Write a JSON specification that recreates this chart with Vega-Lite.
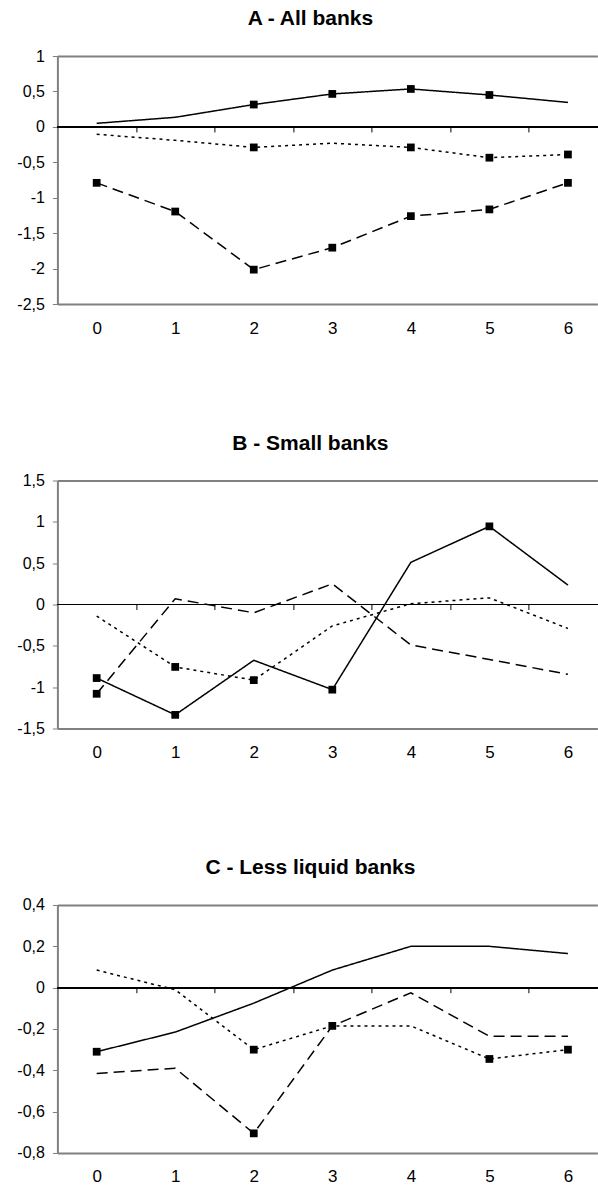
{
  "$schema": "https://vega.github.io/schema/vega-lite/v6.json",
  "padding": {"left": 16.4, "top": 8, "right": 0, "bottom": 0},
  "config": {
    "font": "Liberation Sans",
    "view": {"stroke": null},
    "title": {"fontSize": 21, "fontWeight": "bold", "color": "black", "anchor": "middle", "frame": "group", "offset": 19, "dx": -17},
    "axisY": {"orient": "left", "title": null, "grid": false, "domainColor": "#808080", "domainWidth": 2, "tickColor": "#808080", "tickSize": 5, "tickWidth": 1, "labelPadding": 8, "labelFontSize": 16, "labelColor": "black", "labelExpr": "replace(replace(format(datum.value, '~g'), '.', ','), '\u2212', '-')"}
  },
  "spacing": 176.5,
  "bounds": "flush",
  "vconcat": [
    {
      "title": "A - All banks",
      "width": 540,
      "height": 248,
      "data": {"values": [
        {"t": 0, "v": 0.05, "s": "solid", "m": 0},
        {"t": 1, "v": 0.135, "s": "solid", "m": 0},
        {"t": 2, "v": 0.315, "s": "solid", "m": 1},
        {"t": 3, "v": 0.465, "s": "solid", "m": 1},
        {"t": 4, "v": 0.535, "s": "solid", "m": 1},
        {"t": 5, "v": 0.45, "s": "solid", "m": 1},
        {"t": 6, "v": 0.345, "s": "solid", "m": 0},
        {"t": 0, "v": -0.105, "s": "dotted", "m": 0},
        {"t": 1, "v": -0.19, "s": "dotted", "m": 0},
        {"t": 2, "v": -0.29, "s": "dotted", "m": 1},
        {"t": 3, "v": -0.23, "s": "dotted", "m": 0},
        {"t": 4, "v": -0.29, "s": "dotted", "m": 1},
        {"t": 5, "v": -0.435, "s": "dotted", "m": 1},
        {"t": 6, "v": -0.39, "s": "dotted", "m": 1},
        {"t": 0, "v": -0.79, "s": "dashed", "m": 1},
        {"t": 1, "v": -1.195, "s": "dashed", "m": 1},
        {"t": 2, "v": -2.015, "s": "dashed", "m": 1},
        {"t": 3, "v": -1.705, "s": "dashed", "m": 1},
        {"t": 4, "v": -1.26, "s": "dashed", "m": 1},
        {"t": 5, "v": -1.165, "s": "dashed", "m": 1},
        {"t": 6, "v": -0.79, "s": "dashed", "m": 1}
      ]},
      "layer": [
        {
          "mark": {"type": "rule", "color": "black", "strokeWidth": 1.2},
          "encoding": {
            "x": {"datum": -0.5, "type": "quantitative", "scale": {"domain": [-0.5, 6.375], "nice": false, "zero": false}, "axis": {"orient": "top", "domain": true, "ticks": false, "labels": false, "title": null, "grid": false, "domainColor": "#808080", "domainWidth": 2}},
            "x2": {"datum": 6.375},
            "y": {"datum": 0, "type": "quantitative", "scale": {"domain": [-2.5, 1], "nice": false, "zero": false}, "axis": {"values": [-2.5, -2, -1.5, -1, -0.5, 0, 0.5, 1]}}
          }
        },
        {
          "mark": {"type": "line", "color": "black", "strokeWidth": 1.5},
          "encoding": {
            "x": {"field": "t", "type": "quantitative", "scale": {"domain": [-0.5, 6.375], "nice": false, "zero": false}, "axis": {"orient": "bottom", "values": [0, 1, 2, 3, 4, 5, 6], "ticks": false, "domainColor": "#808080", "domainWidth": 2, "labelFontSize": 17, "labelPadding": 16, "labelColor": "black", "labelFlush": false, "title": null, "grid": false}},
            "y": {"field": "v", "type": "quantitative", "scale": {"domain": [-2.5, 1], "nice": false, "zero": false}, "axis": {"values": [-2.5, -2, -1.5, -1, -0.5, 0, 0.5, 1]}},
            "strokeDash": {"field": "s", "type": "nominal", "scale": {"domain": ["solid", "dotted", "dashed"], "range": [[1, 0], [3, 4], [11, 6]]}, "legend": null}
          }
        },
        {
          "transform": [{"filter": "datum.m == 1"}],
          "mark": {"type": "point", "shape": "square", "filled": true, "color": "black", "size": 60, "opacity": 1},
          "encoding": {
            "x": {"field": "t", "type": "quantitative", "scale": {"domain": [-0.5, 6.375], "nice": false, "zero": false}, "axis": {"orient": "bottom", "offset": -177.1, "values": [0.5, 1.5, 2.5, 3.5, 4.5, 5.5], "labels": false, "domain": false, "ticks": true, "tickSize": 5, "tickColor": "black", "tickWidth": 1, "title": null, "grid": false}},
            "y": {"field": "v", "type": "quantitative", "scale": {"domain": [-2.5, 1], "nice": false, "zero": false}, "axis": {"values": [-2.5, -2, -1.5, -1, -0.5, 0, 0.5, 1]}}
          }
        }
      ],
      "resolve": {"axis": {"x": "independent"}}
    },
    {
      "title": "B - Small banks",
      "width": 540,
      "height": 248,
      "data": {"values": [
        {"t": 0, "v": -0.89, "s": "solid", "m": 1},
        {"t": 1, "v": -1.335, "s": "solid", "m": 1},
        {"t": 2, "v": -0.675, "s": "solid", "m": 0},
        {"t": 3, "v": -1.03, "s": "solid", "m": 1},
        {"t": 4, "v": 0.51, "s": "solid", "m": 0},
        {"t": 5, "v": 0.945, "s": "solid", "m": 1},
        {"t": 6, "v": 0.235, "s": "solid", "m": 0},
        {"t": 0, "v": -0.14, "s": "dotted", "m": 0},
        {"t": 1, "v": -0.755, "s": "dotted", "m": 1},
        {"t": 2, "v": -0.915, "s": "dotted", "m": 1},
        {"t": 3, "v": -0.26, "s": "dotted", "m": 0},
        {"t": 4, "v": 0.01, "s": "dotted", "m": 0},
        {"t": 5, "v": 0.08, "s": "dotted", "m": 0},
        {"t": 6, "v": -0.29, "s": "dotted", "m": 0},
        {"t": 0, "v": -1.08, "s": "dashed", "m": 1},
        {"t": 1, "v": 0.07, "s": "dashed", "m": 0},
        {"t": 2, "v": -0.1, "s": "dashed", "m": 0},
        {"t": 3, "v": 0.25, "s": "dashed", "m": 0},
        {"t": 4, "v": -0.49, "s": "dashed", "m": 0},
        {"t": 5, "v": -0.665, "s": "dashed", "m": 0},
        {"t": 6, "v": -0.845, "s": "dashed", "m": 0}
      ]},
      "layer": [
        {
          "mark": {"type": "rule", "color": "black", "strokeWidth": 1.2},
          "encoding": {
            "x": {"datum": -0.5, "type": "quantitative", "scale": {"domain": [-0.5, 6.375], "nice": false, "zero": false}, "axis": {"orient": "top", "domain": true, "ticks": false, "labels": false, "title": null, "grid": false, "domainColor": "#808080", "domainWidth": 2}},
            "x2": {"datum": 6.375},
            "y": {"datum": 0, "type": "quantitative", "scale": {"domain": [-1.5, 1.5], "nice": false, "zero": false}, "axis": {"values": [-1.5, -1, -0.5, 0, 0.5, 1, 1.5]}}
          }
        },
        {
          "mark": {"type": "line", "color": "black", "strokeWidth": 1.5},
          "encoding": {
            "x": {"field": "t", "type": "quantitative", "scale": {"domain": [-0.5, 6.375], "nice": false, "zero": false}, "axis": {"orient": "bottom", "values": [0, 1, 2, 3, 4, 5, 6], "ticks": false, "domainColor": "#808080", "domainWidth": 2, "labelFontSize": 17, "labelPadding": 16, "labelColor": "black", "labelFlush": false, "title": null, "grid": false}},
            "y": {"field": "v", "type": "quantitative", "scale": {"domain": [-1.5, 1.5], "nice": false, "zero": false}, "axis": {"values": [-1.5, -1, -0.5, 0, 0.5, 1, 1.5]}},
            "strokeDash": {"field": "s", "type": "nominal", "scale": {"domain": ["solid", "dotted", "dashed"], "range": [[1, 0], [3, 4], [11, 6]]}, "legend": null}
          }
        },
        {
          "transform": [{"filter": "datum.m == 1"}],
          "mark": {"type": "point", "shape": "square", "filled": true, "color": "black", "size": 60, "opacity": 1},
          "encoding": {
            "x": {"field": "t", "type": "quantitative", "scale": {"domain": [-0.5, 6.375], "nice": false, "zero": false}, "axis": {"orient": "bottom", "offset": -124, "values": [0.5, 1.5, 2.5, 3.5, 4.5, 5.5], "labels": false, "domain": false, "ticks": true, "tickSize": 5, "tickColor": "black", "tickWidth": 1, "title": null, "grid": false}},
            "y": {"field": "v", "type": "quantitative", "scale": {"domain": [-1.5, 1.5], "nice": false, "zero": false}, "axis": {"values": [-1.5, -1, -0.5, 0, 0.5, 1, 1.5]}}
          }
        }
      ],
      "resolve": {"axis": {"x": "independent"}}
    },
    {
      "title": "C - Less liquid banks",
      "width": 540,
      "height": 248,
      "data": {"values": [
        {"t": 0, "v": -0.31, "s": "solid", "m": 1},
        {"t": 1, "v": -0.215, "s": "solid", "m": 0},
        {"t": 2, "v": -0.075, "s": "solid", "m": 0},
        {"t": 3, "v": 0.085, "s": "solid", "m": 0},
        {"t": 4, "v": 0.2, "s": "solid", "m": 0},
        {"t": 5, "v": 0.2, "s": "solid", "m": 0},
        {"t": 6, "v": 0.165, "s": "solid", "m": 0},
        {"t": 0, "v": 0.085, "s": "dotted", "m": 0},
        {"t": 1, "v": -0.01, "s": "dotted", "m": 0},
        {"t": 2, "v": -0.3, "s": "dotted", "m": 1},
        {"t": 3, "v": -0.185, "s": "dotted", "m": 1},
        {"t": 4, "v": -0.185, "s": "dotted", "m": 0},
        {"t": 5, "v": -0.345, "s": "dotted", "m": 1},
        {"t": 6, "v": -0.3, "s": "dotted", "m": 1},
        {"t": 0, "v": -0.415, "s": "dashed", "m": 0},
        {"t": 1, "v": -0.39, "s": "dashed", "m": 0},
        {"t": 2, "v": -0.705, "s": "dashed", "m": 1},
        {"t": 3, "v": -0.185, "s": "dashed", "m": 0},
        {"t": 4, "v": -0.025, "s": "dashed", "m": 0},
        {"t": 5, "v": -0.235, "s": "dashed", "m": 0},
        {"t": 6, "v": -0.235, "s": "dashed", "m": 0}
      ]},
      "layer": [
        {
          "mark": {"type": "rule", "color": "black", "strokeWidth": 1.2},
          "encoding": {
            "x": {"datum": -0.5, "type": "quantitative", "scale": {"domain": [-0.5, 6.375], "nice": false, "zero": false}, "axis": {"orient": "top", "domain": true, "ticks": false, "labels": false, "title": null, "grid": false, "domainColor": "#808080", "domainWidth": 2}},
            "x2": {"datum": 6.375},
            "y": {"datum": 0, "type": "quantitative", "scale": {"domain": [-0.8, 0.4], "nice": false, "zero": false}, "axis": {"values": [-0.8, -0.6, -0.4, -0.2, 0, 0.2, 0.4]}}
          }
        },
        {
          "mark": {"type": "line", "color": "black", "strokeWidth": 1.5},
          "encoding": {
            "x": {"field": "t", "type": "quantitative", "scale": {"domain": [-0.5, 6.375], "nice": false, "zero": false}, "axis": {"orient": "bottom", "values": [0, 1, 2, 3, 4, 5, 6], "ticks": false, "domainColor": "#808080", "domainWidth": 2, "labelFontSize": 17, "labelPadding": 16, "labelColor": "black", "labelFlush": false, "title": null, "grid": false}},
            "y": {"field": "v", "type": "quantitative", "scale": {"domain": [-0.8, 0.4], "nice": false, "zero": false}, "axis": {"values": [-0.8, -0.6, -0.4, -0.2, 0, 0.2, 0.4]}},
            "strokeDash": {"field": "s", "type": "nominal", "scale": {"domain": ["solid", "dotted", "dashed"], "range": [[1, 0], [3, 4], [11, 6]]}, "legend": null}
          }
        },
        {
          "transform": [{"filter": "datum.m == 1"}],
          "mark": {"type": "point", "shape": "square", "filled": true, "color": "black", "size": 60, "opacity": 1},
          "encoding": {
            "x": {"field": "t", "type": "quantitative", "scale": {"domain": [-0.5, 6.375], "nice": false, "zero": false}, "axis": {"orient": "bottom", "offset": -165.3, "values": [0.5, 1.5, 2.5, 3.5, 4.5, 5.5], "labels": false, "domain": false, "ticks": true, "tickSize": 5, "tickColor": "black", "tickWidth": 1, "title": null, "grid": false}},
            "y": {"field": "v", "type": "quantitative", "scale": {"domain": [-0.8, 0.4], "nice": false, "zero": false}, "axis": {"values": [-0.8, -0.6, -0.4, -0.2, 0, 0.2, 0.4]}}
          }
        }
      ],
      "resolve": {"axis": {"x": "independent"}}
    }
  ]
}
